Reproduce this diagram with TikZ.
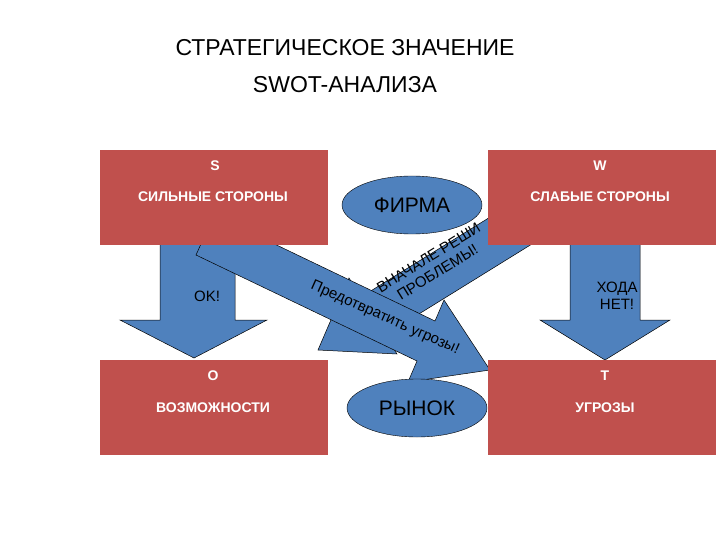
\documentclass[tikz,border=0pt]{standalone}
\usepackage{fontspec}
\setmainfont{Liberation Sans}
\usetikzlibrary{shapes.geometric}
\definecolor{boxred}{HTML}{C0504D}
\definecolor{arrblue}{HTML}{4F81BD}
\begin{document}
\begin{tikzpicture}[x=1pt,y=-1pt,
  box/.style={fill=boxred,draw=none},
  arr/.style={fill=arrblue,draw=black,line width=0.5pt},
  ell/.style={ellipse,fill=arrblue,draw=black,line width=0.4pt,minimum width=140pt,minimum height=58pt,font=\fontsize{21}{24}\selectfont},
  wt/.style={text=white,font=\fontsize{14}{16}\selectfont\bfseries},
  arrtext/.style={font=\fontsize{15}{17}\selectfont,align=center}]
\useasboundingbox (0,0) rectangle (720,540);
\node[font=\fontsize{23}{37}\selectfont,align=center] (title) at (345,66) {СТРАТЕГИЧЕСКОЕ ЗНАЧЕНИЕ\\SWOT-АНАЛИЗА};
% down arrows
\draw[arr] (160,240) -- (235,240) -- (235,320) -- (267,320) -- (194,358) -- (120,320) -- (160,320) -- cycle;
\draw[arr] (570,240) -- (640,240) -- (640,320) -- (670,320) -- (605,360) -- (540,320) -- (570,320) -- cycle;
% diagonal arrows
\draw[arr] (532,244) -- (385,335) -- (397,354) -- (318,350) -- (349,278) -- (361,297) -- (508,206) -- cycle;
\draw[arr] (196,255) -- (417,361) -- (408,382) -- (490,370) -- (444,300) -- (435,321) -- (214,215) -- cycle;
% boxes
\fill[box] (100,150) rectangle (328,245);
\fill[box] (488,150) rectangle (716,245);
\fill[box] (100,360) rectangle (328,455);
\fill[box] (488,360) rectangle (716,455);
\node[ell] (firma) at (412,205) {ФИРМА};
\node[ell] (rynok) at (417,408) {РЫНОК};
\node[wt] (s) at (215,166) {S};
\node[wt] (w) at (600,166) {W};
\node[wt] (ss) at (213,197) {СИЛЬНЫЕ СТОРОНЫ};
\node[wt] (ws) at (600,197) {СЛАБЫЕ СТОРОНЫ};
\node[wt] (o) at (213,376) {O};
\node[wt] (t) at (605,376) {T};
\node[wt] (os) at (213,408) {ВОЗМОЖНОСТИ};
\node[wt] (ts) at (605,408) {УГРОЗЫ};
\node[arrtext] (ok) at (207,296) {OK!};
\node[arrtext] (hn) at (617,296) {ХОДА\\НЕТ!};
\node[arrtext,rotate=31.7] (vr) at (433,265) {ВНАЧАЛЕ РЕШИ\\ПРОБЛЕМЫ!};
\node[arrtext,rotate=-24] (pu) at (385,318) {Предотвратить угрозы!};
\end{tikzpicture}
\end{document}
